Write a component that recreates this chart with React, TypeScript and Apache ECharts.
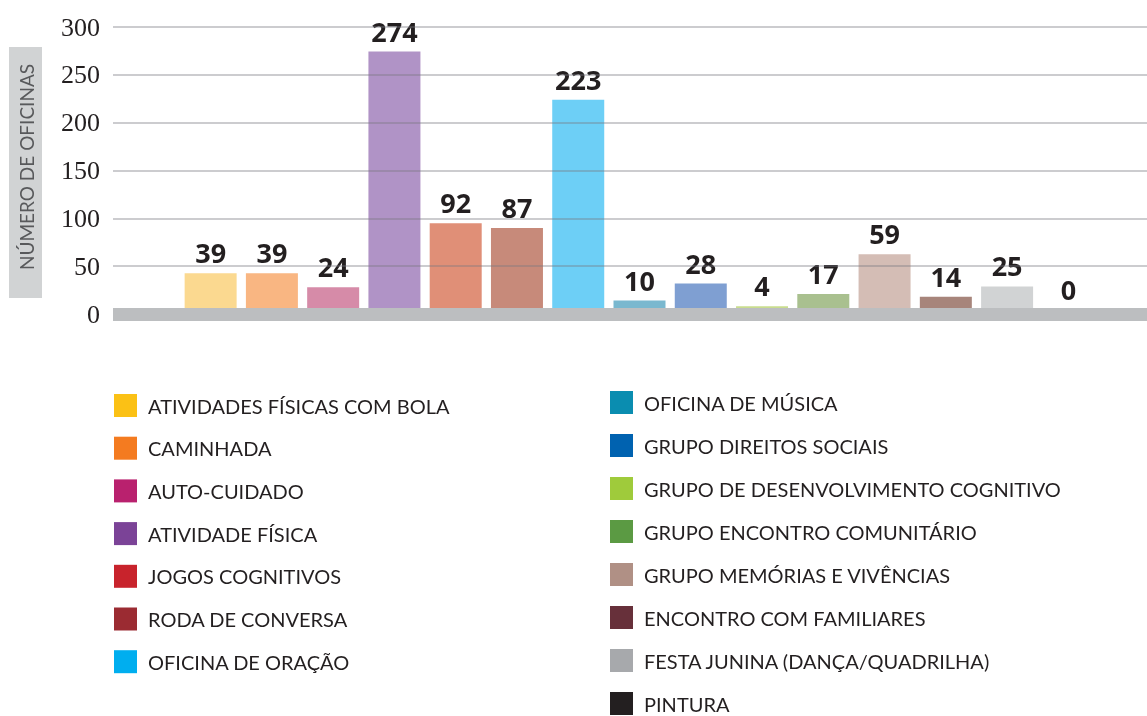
import React, { useEffect, useRef } from "react";
import * as echarts from "echarts";

const categories = [
  "ATIVIDADES FÍSICAS COM BOLA",
  "CAMINHADA",
  "AUTO-CUIDADO",
  "ATIVIDADE FÍSICA",
  "JOGOS COGNITIVOS",
  "RODA DE CONVERSA",
  "OFICINA DE ORAÇÃO",
  "OFICINA DE MÚSICA",
  "GRUPO DIREITOS SOCIAIS",
  "GRUPO DE DESENVOLVIMENTO COGNITIVO",
  "GRUPO ENCONTRO COMUNITÁRIO",
  "GRUPO MEMÓRIAS E VIVÊNCIAS",
  "ENCONTRO COM FAMILIARES",
  "FESTA JUNINA (DANÇA/QUADRILHA)",
  "PINTURA",
];
const values = [39, 39, 24, 274, 92, 87, 223, 10, 28, 4, 17, 59, 14, 25, 0];
const barColors = [
  "#fbd990", "#f9b682", "#d68ba8", "#b093c6", "#e08f77", "#c78a7a", "#6dcff6",
  "#7ab8cf", "#7f9fd2", "#c9dd8e", "#a9c08f", "#d4bdb5", "#a7857b", "#d1d3d4", "#555555",
];
const legendColors = [
  "#fbc115", "#f47b20", "#b9216e", "#7b4397", "#c8232c", "#9b2b32", "#00aeef",
  "#0a8db0", "#0062b0", "#9fcb3b", "#5b9a43", "#b09085", "#67303a", "#a7a9ac", "#231f20",
];
const leftLegendCount = 7;
const yMin = 0;
const yMax = 300;
const yInterval = 50;
const yAxisTitle = "NÚMERO DE OFICINAS";

export default function App() {
  const ref = useRef<HTMLDivElement>(null);
  useEffect(() => {
    if (!ref.current) return;
    const chart = echarts.init(ref.current, null, { renderer: "svg" });
    const legendItem = (name: string, i: number) => ({
      name,
      icon: "rect",
      itemStyle: { color: legendColors[i], opacity: 1, borderWidth: 0 },
    });
    const legendCommon = {
      orient: "vertical" as const,
      padding: 0,
      itemWidth: 23,
      itemHeight: 23,
      itemGap: 20,
      selectedMode: false,
      textStyle: {
        fontFamily: "Lato",
        fontSize: 20,
        color: "#231f20",
        padding: [3, 0, 0, 6],
      },
    };
    const series: any[] = categories.map((name, i) => ({
      name,
      type: "bar",
      xAxisIndex: 1,
      yAxisIndex: 1,
      stack: "all",
      barWidth: 52,
      z: 2,
      itemStyle: { color: barColors[i] },
      label: {
        show: true,
        position: "top",
        distance: 7,
        fontFamily: "Open Sans",
        fontWeight: "bold",
        fontSize: 27,
        color: "#231f20",
      },
      data: categories.map((_, j) => (j === i ? values[i] : "-")),
    }));
    series.push({
      type: "bar",
      xAxisIndex: 0,
      yAxisIndex: 0,
      data: [],
      silent: true,
    });
    chart.setOption({
      animation: false,
      grid: [
        { left: 113, right: 0, top: 27, bottom: 402 },
        { left: 180, right: 48, top: 27, bottom: 406 },
      ],
      xAxis: [
        {
          gridIndex: 0,
          type: "category",
          data: [""],
          z: 6,
          axisLine: { show: true, lineStyle: { color: "#bcbec0", width: 13, cap: "butt" } },
          axisTick: { show: false },
          axisLabel: { show: false },
        },
        {
          gridIndex: 1,
          type: "category",
          data: categories,
          show: false,
        },
      ],
      yAxis: [
        {
          gridIndex: 0,
          type: "value",
          min: yMin,
          max: yMax,
          interval: yInterval,
          z: 5,
          axisLine: { show: false },
          axisTick: { show: false },
          axisLabel: {
            margin: 13,
            fontFamily: "Liberation Serif",
            fontSize: 26,
            color: "#231f20",
          },
          splitLine: { show: true, lineStyle: { color: "rgba(120,121,128,0.5)", width: 1.5 } },
        },
        {
          gridIndex: 1,
          type: "value",
          min: yMin,
          max: yMax,
          interval: yInterval,
          show: false,
          splitLine: { show: false },
        },
      ],
      legend: [
        {
          ...legendCommon,
          left: 114,
          top: 394,
          itemGap: 19.7,
          data: categories.slice(0, leftLegendCount).map((n, i) => legendItem(n, i)),
        },
        {
          ...legendCommon,
          left: 610,
          top: 391,
          itemGap: 20,
          data: categories
            .slice(leftLegendCount)
            .map((n, i) => legendItem(n, i + leftLegendCount)),
        },
      ],
      graphic: [
        {
          type: "rect",
          shape: { x: 9, y: 47, width: 33, height: 251 },
          style: { fill: "#d1d3d4" },
          silent: true,
        },
        {
          type: "text",
          x: 26,
          y: 167,
          rotation: Math.PI / 2,
          style: {
            text: yAxisTitle,
            fill: "#58595b",
            fontFamily: "Lato",
            fontSize: 19,
            textAlign: "center",
            textVerticalAlign: "middle",
          },
          silent: true,
        },
      ],
      series,
    });
    return () => chart.dispose();
  }, []);
  return (
    <div
      ref={ref}
      style={{ position: "fixed", left: 0, top: 0, width: 1147, height: 716 }}
    />
  );
}
